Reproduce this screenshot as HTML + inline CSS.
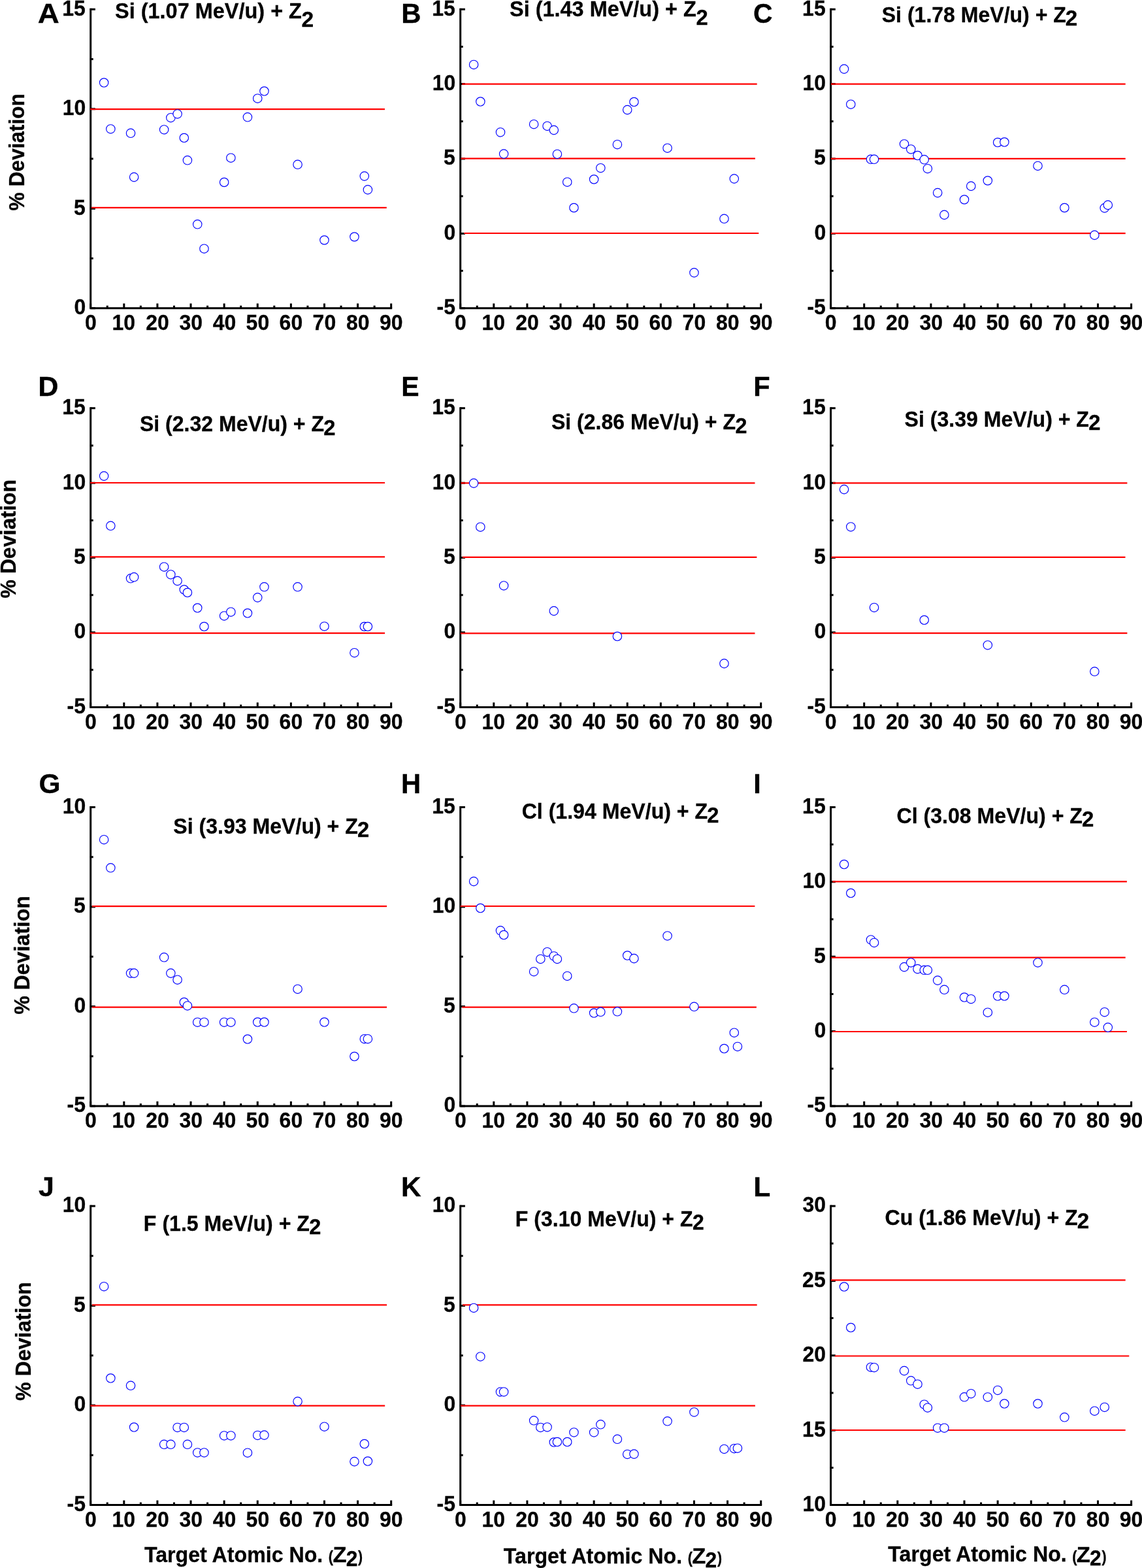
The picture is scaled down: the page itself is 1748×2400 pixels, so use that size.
<!DOCTYPE html>
<html><head><meta charset="utf-8"><title>% Deviation vs Target Atomic No.</title>
<style>html,body{margin:0;padding:0;background:#fff;overflow:hidden}svg{display:block}</style>
</head><body>
<svg width="1748" height="2400" viewBox="0 0 1748 2400">
<rect width="1748" height="2400" fill="#fff"/>
<path d="M138.7 12.7V471.8H600.19M704.7 12.7V471.8H1166.19M1271.6 12.7V471.8H1733.09M138.7 623.3V1082.4H600.19M704.7 623.3V1082.4H1166.19M1271.6 623.3V1082.4H1733.09M138.7 1233.9V1693H600.19M704.7 1233.9V1693H1166.19M1271.6 1233.9V1693H1733.09M138.7 1844.5V2303.6H600.19M704.7 1844.5V2303.6H1166.19M1271.6 1844.5V2303.6H1733.09" stroke="#000" stroke-width="3" fill="none" stroke-linejoin="miter"/>
<path d="M138.7 471.8h7.2M138.7 395.53h4M138.7 319.27h7.2M138.7 243h4M138.7 166.73h7.2M138.7 90.47h4M138.7 14.2h7.2M138.7 471.8v-7.2M164.25 471.8v-4M189.81 471.8v-7.2M215.36 471.8v-4M240.92 471.8v-7.2M266.47 471.8v-4M292.03 471.8v-7.2M317.58 471.8v-4M343.14 471.8v-7.2M368.69 471.8v-4M394.25 471.8v-7.2M419.8 471.8v-4M445.36 471.8v-7.2M470.91 471.8v-4M496.47 471.8v-7.2M522.02 471.8v-4M547.58 471.8v-7.2M573.13 471.8v-4M598.69 471.8v-7.2M704.7 471.8h7.2M704.7 414.6h4M704.7 357.4h7.2M704.7 300.2h4M704.7 243h7.2M704.7 185.8h4M704.7 128.6h7.2M704.7 71.4h4M704.7 14.2h7.2M704.7 471.8v-7.2M730.25 471.8v-4M755.81 471.8v-7.2M781.37 471.8v-4M806.92 471.8v-7.2M832.48 471.8v-4M858.03 471.8v-7.2M883.59 471.8v-4M909.14 471.8v-7.2M934.7 471.8v-4M960.25 471.8v-7.2M985.81 471.8v-4M1011.36 471.8v-7.2M1036.91 471.8v-4M1062.47 471.8v-7.2M1088.03 471.8v-4M1113.58 471.8v-7.2M1139.13 471.8v-4M1164.69 471.8v-7.2M1271.6 471.8h7.2M1271.6 414.6h4M1271.6 357.4h7.2M1271.6 300.2h4M1271.6 243h7.2M1271.6 185.8h4M1271.6 128.6h7.2M1271.6 71.4h4M1271.6 14.2h7.2M1271.6 471.8v-7.2M1297.15 471.8v-4M1322.71 471.8v-7.2M1348.26 471.8v-4M1373.82 471.8v-7.2M1399.38 471.8v-4M1424.93 471.8v-7.2M1450.48 471.8v-4M1476.04 471.8v-7.2M1501.59 471.8v-4M1527.15 471.8v-7.2M1552.7 471.8v-4M1578.26 471.8v-7.2M1603.81 471.8v-4M1629.37 471.8v-7.2M1654.92 471.8v-4M1680.48 471.8v-7.2M1706.03 471.8v-4M1731.59 471.8v-7.2M138.7 1082.4h7.2M138.7 1025.2h4M138.7 968h7.2M138.7 910.8h4M138.7 853.6h7.2M138.7 796.4h4M138.7 739.2h7.2M138.7 682h4M138.7 624.8h7.2M138.7 1082.4v-7.2M164.25 1082.4v-4M189.81 1082.4v-7.2M215.36 1082.4v-4M240.92 1082.4v-7.2M266.47 1082.4v-4M292.03 1082.4v-7.2M317.58 1082.4v-4M343.14 1082.4v-7.2M368.69 1082.4v-4M394.25 1082.4v-7.2M419.8 1082.4v-4M445.36 1082.4v-7.2M470.91 1082.4v-4M496.47 1082.4v-7.2M522.02 1082.4v-4M547.58 1082.4v-7.2M573.13 1082.4v-4M598.69 1082.4v-7.2M704.7 1082.4h7.2M704.7 1025.2h4M704.7 968h7.2M704.7 910.8h4M704.7 853.6h7.2M704.7 796.4h4M704.7 739.2h7.2M704.7 682h4M704.7 624.8h7.2M704.7 1082.4v-7.2M730.25 1082.4v-4M755.81 1082.4v-7.2M781.37 1082.4v-4M806.92 1082.4v-7.2M832.48 1082.4v-4M858.03 1082.4v-7.2M883.59 1082.4v-4M909.14 1082.4v-7.2M934.7 1082.4v-4M960.25 1082.4v-7.2M985.81 1082.4v-4M1011.36 1082.4v-7.2M1036.91 1082.4v-4M1062.47 1082.4v-7.2M1088.03 1082.4v-4M1113.58 1082.4v-7.2M1139.13 1082.4v-4M1164.69 1082.4v-7.2M1271.6 1082.4h7.2M1271.6 1025.2h4M1271.6 968h7.2M1271.6 910.8h4M1271.6 853.6h7.2M1271.6 796.4h4M1271.6 739.2h7.2M1271.6 682h4M1271.6 624.8h7.2M1271.6 1082.4v-7.2M1297.15 1082.4v-4M1322.71 1082.4v-7.2M1348.26 1082.4v-4M1373.82 1082.4v-7.2M1399.38 1082.4v-4M1424.93 1082.4v-7.2M1450.48 1082.4v-4M1476.04 1082.4v-7.2M1501.59 1082.4v-4M1527.15 1082.4v-7.2M1552.7 1082.4v-4M1578.26 1082.4v-7.2M1603.81 1082.4v-4M1629.37 1082.4v-7.2M1654.92 1082.4v-4M1680.48 1082.4v-7.2M1706.03 1082.4v-4M1731.59 1082.4v-7.2M138.7 1693h7.2M138.7 1616.73h4M138.7 1540.47h7.2M138.7 1464.2h4M138.7 1387.93h7.2M138.7 1311.67h4M138.7 1235.4h7.2M138.7 1693v-7.2M164.25 1693v-4M189.81 1693v-7.2M215.36 1693v-4M240.92 1693v-7.2M266.47 1693v-4M292.03 1693v-7.2M317.58 1693v-4M343.14 1693v-7.2M368.69 1693v-4M394.25 1693v-7.2M419.8 1693v-4M445.36 1693v-7.2M470.91 1693v-4M496.47 1693v-7.2M522.02 1693v-4M547.58 1693v-7.2M573.13 1693v-4M598.69 1693v-7.2M704.7 1693h7.2M704.7 1616.73h4M704.7 1540.47h7.2M704.7 1464.2h4M704.7 1387.93h7.2M704.7 1311.67h4M704.7 1235.4h7.2M704.7 1693v-7.2M730.25 1693v-4M755.81 1693v-7.2M781.37 1693v-4M806.92 1693v-7.2M832.48 1693v-4M858.03 1693v-7.2M883.59 1693v-4M909.14 1693v-7.2M934.7 1693v-4M960.25 1693v-7.2M985.81 1693v-4M1011.36 1693v-7.2M1036.91 1693v-4M1062.47 1693v-7.2M1088.03 1693v-4M1113.58 1693v-7.2M1139.13 1693v-4M1164.69 1693v-7.2M1271.6 1693h7.2M1271.6 1635.8h4M1271.6 1578.6h7.2M1271.6 1521.4h4M1271.6 1464.2h7.2M1271.6 1407h4M1271.6 1349.8h7.2M1271.6 1292.6h4M1271.6 1235.4h7.2M1271.6 1693v-7.2M1297.15 1693v-4M1322.71 1693v-7.2M1348.26 1693v-4M1373.82 1693v-7.2M1399.38 1693v-4M1424.93 1693v-7.2M1450.48 1693v-4M1476.04 1693v-7.2M1501.59 1693v-4M1527.15 1693v-7.2M1552.7 1693v-4M1578.26 1693v-7.2M1603.81 1693v-4M1629.37 1693v-7.2M1654.92 1693v-4M1680.48 1693v-7.2M1706.03 1693v-4M1731.59 1693v-7.2M138.7 2303.6h7.2M138.7 2227.33h4M138.7 2151.07h7.2M138.7 2074.8h4M138.7 1998.53h7.2M138.7 1922.27h4M138.7 1846h7.2M138.7 2303.6v-7.2M164.25 2303.6v-4M189.81 2303.6v-7.2M215.36 2303.6v-4M240.92 2303.6v-7.2M266.47 2303.6v-4M292.03 2303.6v-7.2M317.58 2303.6v-4M343.14 2303.6v-7.2M368.69 2303.6v-4M394.25 2303.6v-7.2M419.8 2303.6v-4M445.36 2303.6v-7.2M470.91 2303.6v-4M496.47 2303.6v-7.2M522.02 2303.6v-4M547.58 2303.6v-7.2M573.13 2303.6v-4M598.69 2303.6v-7.2M704.7 2303.6h7.2M704.7 2227.33h4M704.7 2151.07h7.2M704.7 2074.8h4M704.7 1998.53h7.2M704.7 1922.27h4M704.7 1846h7.2M704.7 2303.6v-7.2M730.25 2303.6v-4M755.81 2303.6v-7.2M781.37 2303.6v-4M806.92 2303.6v-7.2M832.48 2303.6v-4M858.03 2303.6v-7.2M883.59 2303.6v-4M909.14 2303.6v-7.2M934.7 2303.6v-4M960.25 2303.6v-7.2M985.81 2303.6v-4M1011.36 2303.6v-7.2M1036.91 2303.6v-4M1062.47 2303.6v-7.2M1088.03 2303.6v-4M1113.58 2303.6v-7.2M1139.13 2303.6v-4M1164.69 2303.6v-7.2M1271.6 2303.6h7.2M1271.6 2246.4h4M1271.6 2189.2h7.2M1271.6 2132h4M1271.6 2074.8h7.2M1271.6 2017.6h4M1271.6 1960.4h7.2M1271.6 1903.2h4M1271.6 1846h7.2M1271.6 2303.6v-7.2M1297.15 2303.6v-4M1322.71 2303.6v-7.2M1348.26 2303.6v-4M1373.82 2303.6v-7.2M1399.38 2303.6v-4M1424.93 2303.6v-7.2M1450.48 2303.6v-4M1476.04 2303.6v-7.2M1501.59 2303.6v-4M1527.15 2303.6v-7.2M1552.7 2303.6v-4M1578.26 2303.6v-7.2M1603.81 2303.6v-4M1629.37 2303.6v-7.2M1654.92 2303.6v-4M1680.48 2303.6v-7.2M1706.03 2303.6v-4M1731.59 2303.6v-7.2" stroke="#000" stroke-width="3" fill="none"/>
<path d="M138.1 167.1H589M140 317.9H591.8M707.2 128.7H1158.7M705.5 242.7H1155.9M710.1 357H1161.3M1271.9 128.7H1722.7M1271.9 242.8H1722.7M1271.9 357.1H1722.7M138.1 739H589.1M138.1 852.4H589.1M138.1 969.2H589.1M705.5 739.3H1155.5M707.8 852.8H1158.4M704.9 969.4H1155.5M1274.8 739.3H1725.4M1272.5 852.9H1722.5M1274.8 969.1H1725.4M140.9 1387.2H592.1M140.9 1541.7H592.1M704.7 1387H1155.4M707.2 1541.6H1157.9M1274.2 1349.3H1724.9M1272.5 1465.6H1722.7M1274.2 1579H1724.9M140.9 1997.3H592.1M138.4 2151.7H589.2M708 1997.3H1158.7M705.1 2151.6H1155.9M1271.9 1959.3H1722.7M1277.6 2075.5H1728.3M1272.5 2189H1722.7" stroke="#ff0000" stroke-width="2.2" fill="none"/>
<g fill="#fff" stroke="#0000ff" stroke-width="1.15">
<circle cx="159.14" cy="126.5" r="6.7"/>
<circle cx="169.37" cy="197.4" r="6.7"/>
<circle cx="200.03" cy="203.8" r="6.7"/>
<circle cx="205.14" cy="271.1" r="6.7"/>
<circle cx="251.14" cy="198.4" r="6.7"/>
<circle cx="261.36" cy="180.2" r="6.7"/>
<circle cx="271.59" cy="174.4" r="6.7"/>
<circle cx="281.81" cy="211" r="6.7"/>
<circle cx="286.92" cy="245.3" r="6.7"/>
<circle cx="302.25" cy="343.3" r="6.7"/>
<circle cx="312.47" cy="380.7" r="6.7"/>
<circle cx="343.14" cy="279" r="6.7"/>
<circle cx="353.36" cy="241.7" r="6.7"/>
<circle cx="378.92" cy="179.3" r="6.7"/>
<circle cx="394.25" cy="150.7" r="6.7"/>
<circle cx="404.47" cy="139.5" r="6.7"/>
<circle cx="455.58" cy="251.8" r="6.7"/>
<circle cx="496.47" cy="367.5" r="6.7"/>
<circle cx="542.47" cy="362.5" r="6.7"/>
<circle cx="557.8" cy="269.6" r="6.7"/>
<circle cx="562.91" cy="290.4" r="6.7"/>
<circle cx="725.14" cy="98.9" r="6.7"/>
<circle cx="735.37" cy="155.5" r="6.7"/>
<circle cx="766.03" cy="202.4" r="6.7"/>
<circle cx="771.14" cy="235.6" r="6.7"/>
<circle cx="817.14" cy="190.2" r="6.7"/>
<circle cx="837.59" cy="192.9" r="6.7"/>
<circle cx="847.81" cy="199.1" r="6.7"/>
<circle cx="852.92" cy="235.9" r="6.7"/>
<circle cx="868.25" cy="278.7" r="6.7"/>
<circle cx="878.47" cy="318" r="6.7"/>
<circle cx="909.14" cy="274.5" r="6.7"/>
<circle cx="919.36" cy="257.2" r="6.7"/>
<circle cx="944.92" cy="221.2" r="6.7"/>
<circle cx="960.25" cy="168.1" r="6.7"/>
<circle cx="970.47" cy="156" r="6.7"/>
<circle cx="1021.58" cy="226.7" r="6.7"/>
<circle cx="1062.47" cy="417.4" r="6.7"/>
<circle cx="1108.47" cy="334.8" r="6.7"/>
<circle cx="1123.8" cy="273.6" r="6.7"/>
<circle cx="1292.04" cy="105.6" r="6.7"/>
<circle cx="1302.27" cy="159.7" r="6.7"/>
<circle cx="1332.93" cy="243.8" r="6.7"/>
<circle cx="1338.04" cy="243.8" r="6.7"/>
<circle cx="1384.04" cy="220.4" r="6.7"/>
<circle cx="1394.26" cy="228.4" r="6.7"/>
<circle cx="1404.49" cy="238" r="6.7"/>
<circle cx="1414.71" cy="244.3" r="6.7"/>
<circle cx="1419.82" cy="258.2" r="6.7"/>
<circle cx="1435.15" cy="295.1" r="6.7"/>
<circle cx="1445.37" cy="328.9" r="6.7"/>
<circle cx="1476.04" cy="305.5" r="6.7"/>
<circle cx="1486.26" cy="284.9" r="6.7"/>
<circle cx="1511.82" cy="276.5" r="6.7"/>
<circle cx="1527.15" cy="218" r="6.7"/>
<circle cx="1537.37" cy="217.5" r="6.7"/>
<circle cx="1588.48" cy="253.9" r="6.7"/>
<circle cx="1629.37" cy="318" r="6.7"/>
<circle cx="1675.37" cy="359.9" r="6.7"/>
<circle cx="1690.7" cy="318.4" r="6.7"/>
<circle cx="1695.81" cy="313.9" r="6.7"/>
<circle cx="159.14" cy="728.6" r="6.7"/>
<circle cx="169.37" cy="804.8" r="6.7"/>
<circle cx="200.03" cy="885.3" r="6.7"/>
<circle cx="205.14" cy="883.3" r="6.7"/>
<circle cx="251.14" cy="867.7" r="6.7"/>
<circle cx="261.36" cy="879.4" r="6.7"/>
<circle cx="271.59" cy="889.1" r="6.7"/>
<circle cx="281.81" cy="902.5" r="6.7"/>
<circle cx="286.92" cy="907" r="6.7"/>
<circle cx="302.25" cy="930.5" r="6.7"/>
<circle cx="312.47" cy="959" r="6.7"/>
<circle cx="343.14" cy="942.7" r="6.7"/>
<circle cx="353.36" cy="936.7" r="6.7"/>
<circle cx="378.92" cy="938.5" r="6.7"/>
<circle cx="394.25" cy="914.6" r="6.7"/>
<circle cx="404.47" cy="898.3" r="6.7"/>
<circle cx="455.58" cy="898.3" r="6.7"/>
<circle cx="496.47" cy="958.7" r="6.7"/>
<circle cx="542.47" cy="999.2" r="6.7"/>
<circle cx="557.8" cy="959" r="6.7"/>
<circle cx="562.91" cy="959" r="6.7"/>
<circle cx="725.14" cy="739.6" r="6.7"/>
<circle cx="735.37" cy="806.7" r="6.7"/>
<circle cx="771.14" cy="896.4" r="6.7"/>
<circle cx="847.81" cy="935.1" r="6.7"/>
<circle cx="944.92" cy="974" r="6.7"/>
<circle cx="1108.47" cy="1015.6" r="6.7"/>
<circle cx="1292.04" cy="749.1" r="6.7"/>
<circle cx="1302.27" cy="806.4" r="6.7"/>
<circle cx="1338.04" cy="929.9" r="6.7"/>
<circle cx="1414.71" cy="949" r="6.7"/>
<circle cx="1511.82" cy="987.4" r="6.7"/>
<circle cx="1675.37" cy="1027.8" r="6.7"/>
<circle cx="159.14" cy="1285.2" r="6.7"/>
<circle cx="169.37" cy="1328.3" r="6.7"/>
<circle cx="200.03" cy="1489.6" r="6.7"/>
<circle cx="205.14" cy="1489.6" r="6.7"/>
<circle cx="251.14" cy="1465.3" r="6.7"/>
<circle cx="261.36" cy="1489.6" r="6.7"/>
<circle cx="271.59" cy="1499.7" r="6.7"/>
<circle cx="281.81" cy="1534" r="6.7"/>
<circle cx="286.92" cy="1539.4" r="6.7"/>
<circle cx="302.25" cy="1564.7" r="6.7"/>
<circle cx="312.47" cy="1564.7" r="6.7"/>
<circle cx="343.14" cy="1564.7" r="6.7"/>
<circle cx="353.36" cy="1564.7" r="6.7"/>
<circle cx="378.92" cy="1590.5" r="6.7"/>
<circle cx="394.25" cy="1564.5" r="6.7"/>
<circle cx="404.47" cy="1564.5" r="6.7"/>
<circle cx="455.58" cy="1513.9" r="6.7"/>
<circle cx="496.47" cy="1564.5" r="6.7"/>
<circle cx="542.47" cy="1617" r="6.7"/>
<circle cx="557.8" cy="1590.2" r="6.7"/>
<circle cx="562.91" cy="1590.2" r="6.7"/>
<circle cx="725.14" cy="1349.1" r="6.7"/>
<circle cx="735.37" cy="1390" r="6.7"/>
<circle cx="766.03" cy="1424.3" r="6.7"/>
<circle cx="771.14" cy="1431" r="6.7"/>
<circle cx="817.14" cy="1487.2" r="6.7"/>
<circle cx="827.36" cy="1467.9" r="6.7"/>
<circle cx="837.59" cy="1457.2" r="6.7"/>
<circle cx="847.81" cy="1463.4" r="6.7"/>
<circle cx="852.92" cy="1467.9" r="6.7"/>
<circle cx="868.25" cy="1493.9" r="6.7"/>
<circle cx="878.47" cy="1543.3" r="6.7"/>
<circle cx="909.14" cy="1550.5" r="6.7"/>
<circle cx="919.36" cy="1548.8" r="6.7"/>
<circle cx="944.92" cy="1548.3" r="6.7"/>
<circle cx="960.25" cy="1462.5" r="6.7"/>
<circle cx="970.47" cy="1467.1" r="6.7"/>
<circle cx="1021.58" cy="1432.4" r="6.7"/>
<circle cx="1062.47" cy="1540.8" r="6.7"/>
<circle cx="1108.47" cy="1605" r="6.7"/>
<circle cx="1123.8" cy="1580.7" r="6.7"/>
<circle cx="1128.91" cy="1601.9" r="6.7"/>
<circle cx="1292.04" cy="1323" r="6.7"/>
<circle cx="1302.27" cy="1367" r="6.7"/>
<circle cx="1332.93" cy="1438.4" r="6.7"/>
<circle cx="1338.04" cy="1442.9" r="6.7"/>
<circle cx="1384.04" cy="1480.1" r="6.7"/>
<circle cx="1394.26" cy="1473.4" r="6.7"/>
<circle cx="1404.49" cy="1483.1" r="6.7"/>
<circle cx="1414.71" cy="1484.8" r="6.7"/>
<circle cx="1419.82" cy="1484.8" r="6.7"/>
<circle cx="1435.15" cy="1500.6" r="6.7"/>
<circle cx="1445.37" cy="1514.8" r="6.7"/>
<circle cx="1476.04" cy="1526.5" r="6.7"/>
<circle cx="1486.26" cy="1529.2" r="6.7"/>
<circle cx="1511.82" cy="1549.7" r="6.7"/>
<circle cx="1527.15" cy="1524.5" r="6.7"/>
<circle cx="1537.37" cy="1524.5" r="6.7"/>
<circle cx="1588.48" cy="1473.4" r="6.7"/>
<circle cx="1629.37" cy="1514.8" r="6.7"/>
<circle cx="1675.37" cy="1564.7" r="6.7"/>
<circle cx="1690.7" cy="1549.2" r="6.7"/>
<circle cx="1695.81" cy="1572.6" r="6.7"/>
<circle cx="159.14" cy="1969.2" r="6.7"/>
<circle cx="169.37" cy="2109.5" r="6.7"/>
<circle cx="200.03" cy="2120.8" r="6.7"/>
<circle cx="205.14" cy="2184.5" r="6.7"/>
<circle cx="251.14" cy="2210.8" r="6.7"/>
<circle cx="261.36" cy="2210.8" r="6.7"/>
<circle cx="271.59" cy="2184.9" r="6.7"/>
<circle cx="281.81" cy="2184.9" r="6.7"/>
<circle cx="286.92" cy="2210.8" r="6.7"/>
<circle cx="302.25" cy="2223.4" r="6.7"/>
<circle cx="312.47" cy="2223.4" r="6.7"/>
<circle cx="343.14" cy="2197.4" r="6.7"/>
<circle cx="353.36" cy="2197.4" r="6.7"/>
<circle cx="378.92" cy="2223.7" r="6.7"/>
<circle cx="394.25" cy="2196.9" r="6.7"/>
<circle cx="404.47" cy="2196.6" r="6.7"/>
<circle cx="455.58" cy="2145.1" r="6.7"/>
<circle cx="496.47" cy="2183.7" r="6.7"/>
<circle cx="542.47" cy="2237.1" r="6.7"/>
<circle cx="557.8" cy="2210" r="6.7"/>
<circle cx="562.91" cy="2236.5" r="6.7"/>
<circle cx="725.14" cy="2001.9" r="6.7"/>
<circle cx="735.37" cy="2076.4" r="6.7"/>
<circle cx="766.03" cy="2130.4" r="6.7"/>
<circle cx="771.14" cy="2130.4" r="6.7"/>
<circle cx="817.14" cy="2174.3" r="6.7"/>
<circle cx="827.36" cy="2184.9" r="6.7"/>
<circle cx="837.59" cy="2184.4" r="6.7"/>
<circle cx="847.81" cy="2207.5" r="6.7"/>
<circle cx="852.92" cy="2207" r="6.7"/>
<circle cx="868.25" cy="2207" r="6.7"/>
<circle cx="878.47" cy="2192.4" r="6.7"/>
<circle cx="909.14" cy="2192.4" r="6.7"/>
<circle cx="919.36" cy="2180.3" r="6.7"/>
<circle cx="944.92" cy="2202.8" r="6.7"/>
<circle cx="960.25" cy="2225.9" r="6.7"/>
<circle cx="970.47" cy="2225.6" r="6.7"/>
<circle cx="1021.58" cy="2175.3" r="6.7"/>
<circle cx="1062.47" cy="2161.4" r="6.7"/>
<circle cx="1108.47" cy="2217.9" r="6.7"/>
<circle cx="1123.8" cy="2217.2" r="6.7"/>
<circle cx="1128.91" cy="2216.7" r="6.7"/>
<circle cx="1292.04" cy="1969.5" r="6.7"/>
<circle cx="1302.27" cy="2032" r="6.7"/>
<circle cx="1332.93" cy="2092.7" r="6.7"/>
<circle cx="1338.04" cy="2093.2" r="6.7"/>
<circle cx="1384.04" cy="2098.1" r="6.7"/>
<circle cx="1394.26" cy="2113.3" r="6.7"/>
<circle cx="1404.49" cy="2118.7" r="6.7"/>
<circle cx="1414.71" cy="2149.7" r="6.7"/>
<circle cx="1419.82" cy="2154.7" r="6.7"/>
<circle cx="1435.15" cy="2185.7" r="6.7"/>
<circle cx="1445.37" cy="2185.7" r="6.7"/>
<circle cx="1476.04" cy="2138.3" r="6.7"/>
<circle cx="1486.26" cy="2133.2" r="6.7"/>
<circle cx="1511.82" cy="2138.4" r="6.7"/>
<circle cx="1527.15" cy="2127.9" r="6.7"/>
<circle cx="1537.37" cy="2148.5" r="6.7"/>
<circle cx="1588.48" cy="2148.5" r="6.7"/>
<circle cx="1629.37" cy="2169.3" r="6.7"/>
<circle cx="1675.37" cy="2159.7" r="6.7"/>
<circle cx="1690.7" cy="2153.9" r="6.7"/>
</g>
<g font-family="'Liberation Sans', Arial, Helvetica, sans-serif" font-weight="bold" font-size="34.0" fill="#000" stroke="#000" stroke-width="0.3">
<text x="113.55" y="481.1" textLength="17.79" lengthAdjust="spacingAndGlyphs">0</text>
<text x="113.08" y="328.57" textLength="17.79" lengthAdjust="spacingAndGlyphs">5</text>
<text x="95.69" y="176.03" textLength="35.56" lengthAdjust="spacingAndGlyphs">10</text>
<text x="95.22" y="23.5" textLength="35.56" lengthAdjust="spacingAndGlyphs">15</text>
<text x="129.89" y="505.1" textLength="17.79" lengthAdjust="spacingAndGlyphs">0</text>
<text x="171.6" y="505.1" textLength="35.56" lengthAdjust="spacingAndGlyphs">10</text>
<text x="223.18" y="505.1" textLength="35.56" lengthAdjust="spacingAndGlyphs">20</text>
<text x="274.52" y="505.1" textLength="35.56" lengthAdjust="spacingAndGlyphs">30</text>
<text x="325.75" y="505.1" textLength="35.56" lengthAdjust="spacingAndGlyphs">40</text>
<text x="376.62" y="505.1" textLength="35.56" lengthAdjust="spacingAndGlyphs">50</text>
<text x="427.62" y="505.1" textLength="35.56" lengthAdjust="spacingAndGlyphs">60</text>
<text x="478.61" y="505.1" textLength="35.56" lengthAdjust="spacingAndGlyphs">70</text>
<text x="529.95" y="505.1" textLength="35.56" lengthAdjust="spacingAndGlyphs">80</text>
<text x="580.95" y="505.1" textLength="35.56" lengthAdjust="spacingAndGlyphs">90</text>
<text x="57.68" y="34.9" font-size="43.3" textLength="33.08" lengthAdjust="spacingAndGlyphs">A</text>
<text x="176.04" y="27.8" font-size="33.7" textLength="285.91" lengthAdjust="spacingAndGlyphs">Si (1.07 MeV/u) + Z</text>
<text x="461.53" y="40.5" font-size="33.1" textLength="18.7" lengthAdjust="spacingAndGlyphs">2</text>
<text x="668.5" y="481.1" textLength="28.42" lengthAdjust="spacingAndGlyphs">-5</text>
<text x="679.55" y="366.7" textLength="17.79" lengthAdjust="spacingAndGlyphs">0</text>
<text x="679.08" y="252.3" textLength="17.79" lengthAdjust="spacingAndGlyphs">5</text>
<text x="661.69" y="137.9" textLength="35.56" lengthAdjust="spacingAndGlyphs">10</text>
<text x="661.22" y="23.5" textLength="35.56" lengthAdjust="spacingAndGlyphs">15</text>
<text x="695.89" y="505.1" textLength="17.79" lengthAdjust="spacingAndGlyphs">0</text>
<text x="737.6" y="505.1" textLength="35.56" lengthAdjust="spacingAndGlyphs">10</text>
<text x="789.18" y="505.1" textLength="35.56" lengthAdjust="spacingAndGlyphs">20</text>
<text x="840.52" y="505.1" textLength="35.56" lengthAdjust="spacingAndGlyphs">30</text>
<text x="891.75" y="505.1" textLength="35.56" lengthAdjust="spacingAndGlyphs">40</text>
<text x="942.62" y="505.1" textLength="35.56" lengthAdjust="spacingAndGlyphs">50</text>
<text x="993.62" y="505.1" textLength="35.56" lengthAdjust="spacingAndGlyphs">60</text>
<text x="1044.61" y="505.1" textLength="35.56" lengthAdjust="spacingAndGlyphs">70</text>
<text x="1095.95" y="505.1" textLength="35.56" lengthAdjust="spacingAndGlyphs">80</text>
<text x="1146.95" y="505.1" textLength="35.56" lengthAdjust="spacingAndGlyphs">90</text>
<text x="614.2" y="34.9" font-size="43.3" textLength="30.27" lengthAdjust="spacingAndGlyphs">B</text>
<text x="780.04" y="25.4" font-size="33.7" textLength="285.71" lengthAdjust="spacingAndGlyphs">Si (1.43 MeV/u) + Z</text>
<text x="1065.56" y="38" font-size="33.1" textLength="18.23" lengthAdjust="spacingAndGlyphs">2</text>
<text x="1235.4" y="481.1" textLength="28.42" lengthAdjust="spacingAndGlyphs">-5</text>
<text x="1246.45" y="366.7" textLength="17.79" lengthAdjust="spacingAndGlyphs">0</text>
<text x="1245.98" y="252.3" textLength="17.79" lengthAdjust="spacingAndGlyphs">5</text>
<text x="1228.59" y="137.9" textLength="35.56" lengthAdjust="spacingAndGlyphs">10</text>
<text x="1228.12" y="23.5" textLength="35.56" lengthAdjust="spacingAndGlyphs">15</text>
<text x="1262.79" y="505.1" textLength="17.79" lengthAdjust="spacingAndGlyphs">0</text>
<text x="1304.5" y="505.1" textLength="35.56" lengthAdjust="spacingAndGlyphs">10</text>
<text x="1356.08" y="505.1" textLength="35.56" lengthAdjust="spacingAndGlyphs">20</text>
<text x="1407.42" y="505.1" textLength="35.56" lengthAdjust="spacingAndGlyphs">30</text>
<text x="1458.65" y="505.1" textLength="35.56" lengthAdjust="spacingAndGlyphs">40</text>
<text x="1509.52" y="505.1" textLength="35.56" lengthAdjust="spacingAndGlyphs">50</text>
<text x="1560.52" y="505.1" textLength="35.56" lengthAdjust="spacingAndGlyphs">60</text>
<text x="1611.51" y="505.1" textLength="35.56" lengthAdjust="spacingAndGlyphs">70</text>
<text x="1662.86" y="505.1" textLength="35.56" lengthAdjust="spacingAndGlyphs">80</text>
<text x="1713.85" y="505.1" textLength="35.56" lengthAdjust="spacingAndGlyphs">90</text>
<text x="1153.05" y="35.2" font-size="43.3" textLength="29.56" lengthAdjust="spacingAndGlyphs">C</text>
<text x="1349.75" y="34" font-size="33.7" textLength="282.09" lengthAdjust="spacingAndGlyphs">Si (1.78 MeV/u) + Z</text>
<text x="1630.85" y="39" font-size="33.1" textLength="18.46" lengthAdjust="spacingAndGlyphs">2</text>
<text x="102.51" y="1091.7" textLength="28.42" lengthAdjust="spacingAndGlyphs">-5</text>
<text x="113.55" y="977.3" textLength="17.79" lengthAdjust="spacingAndGlyphs">0</text>
<text x="113.08" y="862.9" textLength="17.79" lengthAdjust="spacingAndGlyphs">5</text>
<text x="95.69" y="748.5" textLength="35.56" lengthAdjust="spacingAndGlyphs">10</text>
<text x="95.22" y="634.1" textLength="35.56" lengthAdjust="spacingAndGlyphs">15</text>
<text x="129.89" y="1115.7" textLength="17.79" lengthAdjust="spacingAndGlyphs">0</text>
<text x="171.6" y="1115.7" textLength="35.56" lengthAdjust="spacingAndGlyphs">10</text>
<text x="223.18" y="1115.7" textLength="35.56" lengthAdjust="spacingAndGlyphs">20</text>
<text x="274.52" y="1115.7" textLength="35.56" lengthAdjust="spacingAndGlyphs">30</text>
<text x="325.75" y="1115.7" textLength="35.56" lengthAdjust="spacingAndGlyphs">40</text>
<text x="376.62" y="1115.7" textLength="35.56" lengthAdjust="spacingAndGlyphs">50</text>
<text x="427.62" y="1115.7" textLength="35.56" lengthAdjust="spacingAndGlyphs">60</text>
<text x="478.61" y="1115.7" textLength="35.56" lengthAdjust="spacingAndGlyphs">70</text>
<text x="529.95" y="1115.7" textLength="35.56" lengthAdjust="spacingAndGlyphs">80</text>
<text x="580.95" y="1115.7" textLength="35.56" lengthAdjust="spacingAndGlyphs">90</text>
<text x="58.3" y="606.2" font-size="43.3">D</text>
<text x="213.95" y="660.4" font-size="33.7" textLength="282.09" lengthAdjust="spacingAndGlyphs">Si (2.32 MeV/u) + Z</text>
<text x="495.26" y="665.7" font-size="33.1" textLength="18.23" lengthAdjust="spacingAndGlyphs">2</text>
<text x="668.5" y="1091.7" textLength="28.42" lengthAdjust="spacingAndGlyphs">-5</text>
<text x="679.55" y="977.3" textLength="17.79" lengthAdjust="spacingAndGlyphs">0</text>
<text x="679.08" y="862.9" textLength="17.79" lengthAdjust="spacingAndGlyphs">5</text>
<text x="661.69" y="748.5" textLength="35.56" lengthAdjust="spacingAndGlyphs">10</text>
<text x="661.22" y="634.1" textLength="35.56" lengthAdjust="spacingAndGlyphs">15</text>
<text x="695.89" y="1115.7" textLength="17.79" lengthAdjust="spacingAndGlyphs">0</text>
<text x="737.6" y="1115.7" textLength="35.56" lengthAdjust="spacingAndGlyphs">10</text>
<text x="789.18" y="1115.7" textLength="35.56" lengthAdjust="spacingAndGlyphs">20</text>
<text x="840.52" y="1115.7" textLength="35.56" lengthAdjust="spacingAndGlyphs">30</text>
<text x="891.75" y="1115.7" textLength="35.56" lengthAdjust="spacingAndGlyphs">40</text>
<text x="942.62" y="1115.7" textLength="35.56" lengthAdjust="spacingAndGlyphs">50</text>
<text x="993.62" y="1115.7" textLength="35.56" lengthAdjust="spacingAndGlyphs">60</text>
<text x="1044.61" y="1115.7" textLength="35.56" lengthAdjust="spacingAndGlyphs">70</text>
<text x="1095.95" y="1115.7" textLength="35.56" lengthAdjust="spacingAndGlyphs">80</text>
<text x="1146.95" y="1115.7" textLength="35.56" lengthAdjust="spacingAndGlyphs">90</text>
<text x="614.15" y="606" font-size="43.3" textLength="27.4" lengthAdjust="spacingAndGlyphs">E</text>
<text x="843.95" y="657" font-size="33.7" textLength="282.09" lengthAdjust="spacingAndGlyphs">Si (2.86 MeV/u) + Z</text>
<text x="1125.48" y="662.8" font-size="33.1" textLength="18" lengthAdjust="spacingAndGlyphs">2</text>
<text x="1235.4" y="1091.7" textLength="28.42" lengthAdjust="spacingAndGlyphs">-5</text>
<text x="1246.45" y="977.3" textLength="17.79" lengthAdjust="spacingAndGlyphs">0</text>
<text x="1245.98" y="862.9" textLength="17.79" lengthAdjust="spacingAndGlyphs">5</text>
<text x="1228.59" y="748.5" textLength="35.56" lengthAdjust="spacingAndGlyphs">10</text>
<text x="1228.12" y="634.1" textLength="35.56" lengthAdjust="spacingAndGlyphs">15</text>
<text x="1262.79" y="1115.7" textLength="17.79" lengthAdjust="spacingAndGlyphs">0</text>
<text x="1304.5" y="1115.7" textLength="35.56" lengthAdjust="spacingAndGlyphs">10</text>
<text x="1356.08" y="1115.7" textLength="35.56" lengthAdjust="spacingAndGlyphs">20</text>
<text x="1407.42" y="1115.7" textLength="35.56" lengthAdjust="spacingAndGlyphs">30</text>
<text x="1458.65" y="1115.7" textLength="35.56" lengthAdjust="spacingAndGlyphs">40</text>
<text x="1509.52" y="1115.7" textLength="35.56" lengthAdjust="spacingAndGlyphs">50</text>
<text x="1560.52" y="1115.7" textLength="35.56" lengthAdjust="spacingAndGlyphs">60</text>
<text x="1611.51" y="1115.7" textLength="35.56" lengthAdjust="spacingAndGlyphs">70</text>
<text x="1662.86" y="1115.7" textLength="35.56" lengthAdjust="spacingAndGlyphs">80</text>
<text x="1713.85" y="1115.7" textLength="35.56" lengthAdjust="spacingAndGlyphs">90</text>
<text x="1153.22" y="606" font-size="43.3" textLength="25.42" lengthAdjust="spacingAndGlyphs">F</text>
<text x="1384.55" y="652.9" font-size="33.7" textLength="282.39" lengthAdjust="spacingAndGlyphs">Si (3.39 MeV/u) + Z</text>
<text x="1666.16" y="658" font-size="33.1" textLength="18.23" lengthAdjust="spacingAndGlyphs">2</text>
<text x="102.51" y="1702.3" textLength="28.42" lengthAdjust="spacingAndGlyphs">-5</text>
<text x="113.55" y="1549.77" textLength="17.79" lengthAdjust="spacingAndGlyphs">0</text>
<text x="113.08" y="1397.23" textLength="17.79" lengthAdjust="spacingAndGlyphs">5</text>
<text x="95.69" y="1244.7" textLength="35.56" lengthAdjust="spacingAndGlyphs">10</text>
<text x="129.89" y="1726.3" textLength="17.79" lengthAdjust="spacingAndGlyphs">0</text>
<text x="171.6" y="1726.3" textLength="35.56" lengthAdjust="spacingAndGlyphs">10</text>
<text x="223.18" y="1726.3" textLength="35.56" lengthAdjust="spacingAndGlyphs">20</text>
<text x="274.52" y="1726.3" textLength="35.56" lengthAdjust="spacingAndGlyphs">30</text>
<text x="325.75" y="1726.3" textLength="35.56" lengthAdjust="spacingAndGlyphs">40</text>
<text x="376.62" y="1726.3" textLength="35.56" lengthAdjust="spacingAndGlyphs">50</text>
<text x="427.62" y="1726.3" textLength="35.56" lengthAdjust="spacingAndGlyphs">60</text>
<text x="478.61" y="1726.3" textLength="35.56" lengthAdjust="spacingAndGlyphs">70</text>
<text x="529.95" y="1726.3" textLength="35.56" lengthAdjust="spacingAndGlyphs">80</text>
<text x="580.95" y="1726.3" textLength="35.56" lengthAdjust="spacingAndGlyphs">90</text>
<text x="59.58" y="1214.4" font-size="43.3" textLength="33.05" lengthAdjust="spacingAndGlyphs">G</text>
<text x="265.25" y="1275.7" font-size="33.7" textLength="282.59" lengthAdjust="spacingAndGlyphs">Si (3.93 MeV/u) + Z</text>
<text x="546.96" y="1281.1" font-size="33.1" textLength="18.23" lengthAdjust="spacingAndGlyphs">2</text>
<text x="679.55" y="1702.3" textLength="17.79" lengthAdjust="spacingAndGlyphs">0</text>
<text x="679.08" y="1549.77" textLength="17.79" lengthAdjust="spacingAndGlyphs">5</text>
<text x="661.69" y="1397.23" textLength="35.56" lengthAdjust="spacingAndGlyphs">10</text>
<text x="661.22" y="1244.7" textLength="35.56" lengthAdjust="spacingAndGlyphs">15</text>
<text x="695.89" y="1726.3" textLength="17.79" lengthAdjust="spacingAndGlyphs">0</text>
<text x="737.6" y="1726.3" textLength="35.56" lengthAdjust="spacingAndGlyphs">10</text>
<text x="789.18" y="1726.3" textLength="35.56" lengthAdjust="spacingAndGlyphs">20</text>
<text x="840.52" y="1726.3" textLength="35.56" lengthAdjust="spacingAndGlyphs">30</text>
<text x="891.75" y="1726.3" textLength="35.56" lengthAdjust="spacingAndGlyphs">40</text>
<text x="942.62" y="1726.3" textLength="35.56" lengthAdjust="spacingAndGlyphs">50</text>
<text x="993.62" y="1726.3" textLength="35.56" lengthAdjust="spacingAndGlyphs">60</text>
<text x="1044.61" y="1726.3" textLength="35.56" lengthAdjust="spacingAndGlyphs">70</text>
<text x="1095.95" y="1726.3" textLength="35.56" lengthAdjust="spacingAndGlyphs">80</text>
<text x="1146.95" y="1726.3" textLength="35.56" lengthAdjust="spacingAndGlyphs">90</text>
<text x="614.1" y="1214.1" font-size="43.3" textLength="30.23" lengthAdjust="spacingAndGlyphs">H</text>
<text x="798.67" y="1253.4" font-size="33.7" textLength="284.47" lengthAdjust="spacingAndGlyphs">Cl (1.94 MeV/u) + Z</text>
<text x="1082.26" y="1258.5" font-size="33.1" textLength="18.23" lengthAdjust="spacingAndGlyphs">2</text>
<text x="1235.4" y="1702.3" textLength="28.42" lengthAdjust="spacingAndGlyphs">-5</text>
<text x="1246.45" y="1587.9" textLength="17.79" lengthAdjust="spacingAndGlyphs">0</text>
<text x="1245.98" y="1473.5" textLength="17.79" lengthAdjust="spacingAndGlyphs">5</text>
<text x="1228.59" y="1359.1" textLength="35.56" lengthAdjust="spacingAndGlyphs">10</text>
<text x="1228.12" y="1244.7" textLength="35.56" lengthAdjust="spacingAndGlyphs">15</text>
<text x="1262.79" y="1726.3" textLength="17.79" lengthAdjust="spacingAndGlyphs">0</text>
<text x="1304.5" y="1726.3" textLength="35.56" lengthAdjust="spacingAndGlyphs">10</text>
<text x="1356.08" y="1726.3" textLength="35.56" lengthAdjust="spacingAndGlyphs">20</text>
<text x="1407.42" y="1726.3" textLength="35.56" lengthAdjust="spacingAndGlyphs">30</text>
<text x="1458.65" y="1726.3" textLength="35.56" lengthAdjust="spacingAndGlyphs">40</text>
<text x="1509.52" y="1726.3" textLength="35.56" lengthAdjust="spacingAndGlyphs">50</text>
<text x="1560.52" y="1726.3" textLength="35.56" lengthAdjust="spacingAndGlyphs">60</text>
<text x="1611.51" y="1726.3" textLength="35.56" lengthAdjust="spacingAndGlyphs">70</text>
<text x="1662.86" y="1726.3" textLength="35.56" lengthAdjust="spacingAndGlyphs">80</text>
<text x="1713.85" y="1726.3" textLength="35.56" lengthAdjust="spacingAndGlyphs">90</text>
<text x="1153.22" y="1214.1" font-size="43.3" textLength="11.55" lengthAdjust="spacingAndGlyphs">I</text>
<text x="1372.47" y="1260" font-size="33.7" textLength="284.47" lengthAdjust="spacingAndGlyphs">Cl (3.08 MeV/u) + Z</text>
<text x="1655.95" y="1265.4" font-size="33.1" textLength="18.35" lengthAdjust="spacingAndGlyphs">2</text>
<text x="102.51" y="2312.9" textLength="28.42" lengthAdjust="spacingAndGlyphs">-5</text>
<text x="113.55" y="2160.37" textLength="17.79" lengthAdjust="spacingAndGlyphs">0</text>
<text x="113.08" y="2007.83" textLength="17.79" lengthAdjust="spacingAndGlyphs">5</text>
<text x="95.69" y="1855.3" textLength="35.56" lengthAdjust="spacingAndGlyphs">10</text>
<text x="129.89" y="2336.9" textLength="17.79" lengthAdjust="spacingAndGlyphs">0</text>
<text x="171.6" y="2336.9" textLength="35.56" lengthAdjust="spacingAndGlyphs">10</text>
<text x="223.18" y="2336.9" textLength="35.56" lengthAdjust="spacingAndGlyphs">20</text>
<text x="274.52" y="2336.9" textLength="35.56" lengthAdjust="spacingAndGlyphs">30</text>
<text x="325.75" y="2336.9" textLength="35.56" lengthAdjust="spacingAndGlyphs">40</text>
<text x="376.62" y="2336.9" textLength="35.56" lengthAdjust="spacingAndGlyphs">50</text>
<text x="427.62" y="2336.9" textLength="35.56" lengthAdjust="spacingAndGlyphs">60</text>
<text x="478.61" y="2336.9" textLength="35.56" lengthAdjust="spacingAndGlyphs">70</text>
<text x="529.95" y="2336.9" textLength="35.56" lengthAdjust="spacingAndGlyphs">80</text>
<text x="580.95" y="2336.9" textLength="35.56" lengthAdjust="spacingAndGlyphs">90</text>
<text x="59.06" y="1831.2" font-size="43.3" textLength="23.92" lengthAdjust="spacingAndGlyphs">J</text>
<text x="219.86" y="1884" font-size="33.7" textLength="254.1" lengthAdjust="spacingAndGlyphs">F (1.5 MeV/u) + Z</text>
<text x="473.17" y="1889.2" font-size="33.1" textLength="18.11" lengthAdjust="spacingAndGlyphs">2</text>
<text x="668.5" y="2312.9" textLength="28.42" lengthAdjust="spacingAndGlyphs">-5</text>
<text x="679.55" y="2160.37" textLength="17.79" lengthAdjust="spacingAndGlyphs">0</text>
<text x="679.08" y="2007.83" textLength="17.79" lengthAdjust="spacingAndGlyphs">5</text>
<text x="661.69" y="1855.3" textLength="35.56" lengthAdjust="spacingAndGlyphs">10</text>
<text x="695.89" y="2336.9" textLength="17.79" lengthAdjust="spacingAndGlyphs">0</text>
<text x="737.6" y="2336.9" textLength="35.56" lengthAdjust="spacingAndGlyphs">10</text>
<text x="789.18" y="2336.9" textLength="35.56" lengthAdjust="spacingAndGlyphs">20</text>
<text x="840.52" y="2336.9" textLength="35.56" lengthAdjust="spacingAndGlyphs">30</text>
<text x="891.75" y="2336.9" textLength="35.56" lengthAdjust="spacingAndGlyphs">40</text>
<text x="942.62" y="2336.9" textLength="35.56" lengthAdjust="spacingAndGlyphs">50</text>
<text x="993.62" y="2336.9" textLength="35.56" lengthAdjust="spacingAndGlyphs">60</text>
<text x="1044.61" y="2336.9" textLength="35.56" lengthAdjust="spacingAndGlyphs">70</text>
<text x="1095.95" y="2336.9" textLength="35.56" lengthAdjust="spacingAndGlyphs">80</text>
<text x="1146.95" y="2336.9" textLength="35.56" lengthAdjust="spacingAndGlyphs">90</text>
<text x="614.06" y="1830.8" font-size="43.3" textLength="30.66" lengthAdjust="spacingAndGlyphs">K</text>
<text x="788.86" y="1876.8" font-size="33.7" textLength="271.68" lengthAdjust="spacingAndGlyphs">F (3.10 MeV/u) + Z</text>
<text x="1059.89" y="1882" font-size="33.1" textLength="17.76" lengthAdjust="spacingAndGlyphs">2</text>
<text x="1228.59" y="2312.9" textLength="35.56" lengthAdjust="spacingAndGlyphs">10</text>
<text x="1228.12" y="2198.5" textLength="35.56" lengthAdjust="spacingAndGlyphs">15</text>
<text x="1228.59" y="2084.1" textLength="35.56" lengthAdjust="spacingAndGlyphs">20</text>
<text x="1228.12" y="1969.7" textLength="35.56" lengthAdjust="spacingAndGlyphs">25</text>
<text x="1228.59" y="1855.3" textLength="35.56" lengthAdjust="spacingAndGlyphs">30</text>
<text x="1262.79" y="2336.9" textLength="17.79" lengthAdjust="spacingAndGlyphs">0</text>
<text x="1304.5" y="2336.9" textLength="35.56" lengthAdjust="spacingAndGlyphs">10</text>
<text x="1356.08" y="2336.9" textLength="35.56" lengthAdjust="spacingAndGlyphs">20</text>
<text x="1407.42" y="2336.9" textLength="35.56" lengthAdjust="spacingAndGlyphs">30</text>
<text x="1458.65" y="2336.9" textLength="35.56" lengthAdjust="spacingAndGlyphs">40</text>
<text x="1509.52" y="2336.9" textLength="35.56" lengthAdjust="spacingAndGlyphs">50</text>
<text x="1560.52" y="2336.9" textLength="35.56" lengthAdjust="spacingAndGlyphs">60</text>
<text x="1611.51" y="2336.9" textLength="35.56" lengthAdjust="spacingAndGlyphs">70</text>
<text x="1662.86" y="2336.9" textLength="35.56" lengthAdjust="spacingAndGlyphs">80</text>
<text x="1713.85" y="2336.9" textLength="35.56" lengthAdjust="spacingAndGlyphs">90</text>
<text x="1153.14" y="1830.8" font-size="43.3" textLength="26.09" lengthAdjust="spacingAndGlyphs">L</text>
<text x="1354.47" y="1874.8" font-size="33.7" textLength="295.24" lengthAdjust="spacingAndGlyphs">Cu (1.86 MeV/u) + Z</text>
<text x="1648.85" y="1879.8" font-size="33.1" textLength="18.46" lengthAdjust="spacingAndGlyphs">2</text>
<text x="-322.5" y="0" textLength="179.36" lengthAdjust="spacingAndGlyphs" transform="translate(37.3 0) rotate(-90)">% Deviation</text>
<text x="-915.71" y="0" textLength="181.7" lengthAdjust="spacingAndGlyphs" transform="translate(23.8 0) rotate(-90)">% Deviation</text>
<text x="-1552.81" y="0" textLength="181.7" lengthAdjust="spacingAndGlyphs" transform="translate(44.9 0) rotate(-90)">% Deviation</text>
<text x="-2143.91" y="0" textLength="181.8" lengthAdjust="spacingAndGlyphs" transform="translate(47 0) rotate(-90)">% Deviation</text>
<text x="220.95" y="2390.8" font-size="32.7" textLength="273.37" lengthAdjust="spacingAndGlyphs">Target Atomic No.</text>
<text x="502.85" y="2391" font-size="23.5" textLength="7.23" lengthAdjust="spacingAndGlyphs">(</text>
<text x="509.47" y="2391" font-size="33.4" textLength="21.07" lengthAdjust="spacingAndGlyphs">Z</text>
<text x="529.72" y="2396.7" font-size="33.8" textLength="17.7" lengthAdjust="spacingAndGlyphs">2</text>
<text x="548.1" y="2391" font-size="23.5" textLength="7.07" lengthAdjust="spacingAndGlyphs">)</text>
<text x="770.75" y="2393.1" font-size="32.7" textLength="273.37" lengthAdjust="spacingAndGlyphs">Target Atomic No.</text>
<text x="1052.65" y="2393.3" font-size="23.5" textLength="7.23" lengthAdjust="spacingAndGlyphs">(</text>
<text x="1059.27" y="2393.3" font-size="33.4" textLength="21.07" lengthAdjust="spacingAndGlyphs">Z</text>
<text x="1079.52" y="2399" font-size="33.8" textLength="17.7" lengthAdjust="spacingAndGlyphs">2</text>
<text x="1097.9" y="2393.3" font-size="23.5" textLength="7.07" lengthAdjust="spacingAndGlyphs">)</text>
<text x="1359.35" y="2390.3" font-size="32.7" textLength="273.37" lengthAdjust="spacingAndGlyphs">Target Atomic No.</text>
<text x="1641.25" y="2390.5" font-size="23.5" textLength="7.23" lengthAdjust="spacingAndGlyphs">(</text>
<text x="1647.87" y="2390.5" font-size="33.4" textLength="21.07" lengthAdjust="spacingAndGlyphs">Z</text>
<text x="1668.12" y="2396.2" font-size="33.8" textLength="17.7" lengthAdjust="spacingAndGlyphs">2</text>
<text x="1686.5" y="2390.5" font-size="23.5" textLength="7.07" lengthAdjust="spacingAndGlyphs">)</text>
</g>
</svg>
</body></html>
